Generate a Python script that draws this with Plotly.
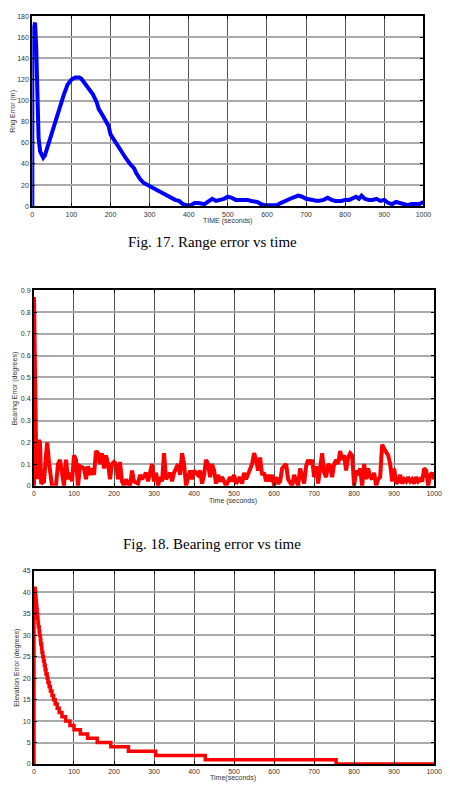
import plotly.graph_objects as go

# ---------------- data ----------------
time_ticks = [0, 100, 200, 300, 400, 500, 600, 700, 800, 900, 1000]

range_t = [0, 0, 3, 7, 10, 13, 16, 20, 25, 28, 32, 40, 50, 60, 70, 80, 90, 100, 110, 120, 125,
           135, 145, 155, 165, 170, 180, 190, 195, 200, 210, 220, 230, 240, 250, 260, 265, 275,
           285, 295, 305, 315, 330, 340, 350, 365, 375, 385, 395, 405, 415, 425, 440, 450, 460,
           470, 480, 490, 500, 510, 520, 535, 550, 560, 575, 585, 595, 610, 625, 635, 645, 655,
           665, 680, 690, 700, 715, 730, 745, 755, 765, 775, 790, 800, 810, 820, 828, 835, 842,
           850, 860, 870, 880, 890, 900, 910, 920, 930, 940, 950, 960, 970, 980, 990, 1000]
range_err = [0, 150, 168, 174, 150, 100, 65, 52, 47, 46, 48, 58, 70, 82, 95, 105, 115, 120, 122,
             122, 121, 116, 111, 106, 98, 92, 86, 80, 76, 68, 62, 56, 50, 45, 40, 36, 32, 26, 22,
             20, 18, 15, 13, 10, 8, 6, 5, 2, 1, 1, 3, 3, 2, 4, 7, 5, 6, 7, 9, 8, 6, 6, 6, 5, 4,
             2, 1, 1, 1, 3, 5, 6, 8, 10, 9, 7, 6, 5, 6, 8, 6, 5, 5, 6, 6, 8, 9, 7, 10, 7, 6, 6,
             7, 5, 6, 3, 2, 4, 3, 2, 1, 2, 2, 2, 4]

bearing_t = [0, 0, 2, 5, 8, 12, 15, 18, 25, 30, 33, 38, 45, 55, 60, 65, 70, 75, 80, 85, 90, 95,
             100, 105, 110, 115, 125, 130, 135, 140, 145, 150, 155, 160, 165, 170, 175, 180, 185,
             190, 195, 200, 205, 210, 215, 220, 225, 230, 235, 240, 245, 250, 260, 265, 270, 280,
             285, 290, 295, 300, 305, 310, 315, 320, 325, 330, 335, 340, 345, 350, 360, 365, 370,
             375, 380, 390, 395, 400, 410, 415, 420, 425, 430, 435, 440, 445, 450, 455, 460, 465,
             470, 480, 485, 490, 495, 500, 505, 510, 515, 520, 525, 530, 540, 545, 550, 555, 560,
             565, 570, 575, 580, 585, 590, 595, 600, 605, 610, 615, 620, 630, 635, 645, 650, 660,
             665, 670, 675, 680, 685, 690, 695, 700, 705, 710, 715, 720, 725, 730, 735, 740, 745,
             750, 755, 760, 765, 770, 775, 780, 785, 790, 795, 800, 805, 810, 815, 820, 825, 830,
             835, 840, 845, 850, 855, 860, 865, 870, 875, 880, 885, 890, 895, 900, 905, 910, 915,
             920, 925, 930, 935, 940, 945, 950, 955, 960, 965, 970, 975, 980, 985, 990, 995, 1000]
bearing_err = [0, 0.87, 0.6, 0.2, 0.03, 0.21, 0.2, 0.01, 0.02, 0.14, 0.2, 0.1, 0.0, 0.0, 0.1,
               0.12, 0.06, 0.0, 0.12, 0.03, 0.06, 0.02, 0.14, 0.12, 0.0, 0.09, 0.08, 0.03, 0.09,
               0.05, 0.08, 0.05, 0.16, 0.15, 0.1, 0.15, 0.08, 0.14, 0.1, 0.03, 0.1, 0.11, 0.1,
               0.03, 0.11, 0.02, 0.0, 0.03, 0.01, 0.0, 0.07, 0.02, 0.01, 0.05, 0.03, 0.06, 0.02,
               0.06, 0.1, 0.02, 0.06, 0.0, 0.04, 0.02, 0.15, 0.03, 0.05, 0.06, 0.02, 0.06, 0.1,
               0.05, 0.15, 0.1, 0.0, 0.07, 0.03, 0.07, 0.05, 0.07, 0.01, 0.05, 0.12, 0.1, 0.04,
               0.1, 0.07, 0.01, 0.05, 0.02, 0.04, 0.0, 0.02, 0.04, 0.02, 0.05, 0.01, 0.03, 0.04,
               0.01, 0.06, 0.03, 0.08, 0.1, 0.15, 0.12, 0.07, 0.13, 0.05, 0.06, 0.02, 0.05, 0.02,
               0.05, 0.0, 0.04, 0.01, 0.02, 0.08, 0.1, 0.03, 0.0, 0.05, 0.0, 0.08, 0.05, 0.01,
               0.09, 0.12, 0.1, 0.12, 0.04, 0.09, 0.01, 0.1, 0.15, 0.06, 0.04, 0.1, 0.09, 0.04,
               0.1, 0.12, 0.1, 0.16, 0.12, 0.14, 0.07, 0.13, 0.15, 0.14, 0.0, 0.07, 0.05, 0.08,
               0.0, 0.1, 0.03, 0.08, 0.04, 0.03, 0.06, 0.0, 0.03, 0.04, 0.19, 0.17, 0.15, 0.14,
               0.1, 0.02, 0.08, 0.01, 0.02, 0.05, 0.01, 0.03, 0.02, 0.04, 0.02, 0.03, 0.01, 0.04,
               0.02, 0.03, 0.02, 0.08, 0.07, 0.0, 0.05, 0.06, 0.03]

elev_t = [0, 0, 3, 4, 5, 6, 7, 8, 9, 10, 11, 13, 14, 16, 17, 19, 20, 22, 24, 26, 28, 30, 33, 35,
          38, 41, 45, 49, 53, 58, 63, 70, 79, 90, 100, 116, 134, 158, 192, 236, 304, 428, 755, 1000]
elev_err = [0, 41, 40, 39, 38, 37, 36, 35, 34, 33, 32, 31, 30, 29, 28, 27, 26, 25, 24, 23, 22,
            21, 20, 19, 18, 17, 16, 15, 14, 13, 12, 11, 10, 9, 8, 7, 6, 5, 4, 3, 2, 1, 0, 0]

range_ticks = [0, 20, 40, 60, 80, 100, 120, 140, 160, 180]
bearing_ticks = [0, 0.1, 0.2, 0.3, 0.4, 0.5, 0.6, 0.7, 0.8, 0.9]
elev_ticks = [0, 5, 10, 15, 20, 25, 30, 35, 40, 45]

# ---------------- figure ----------------
W, H = 450, 802


def px_x(p):
    return p / W


def px_y(p):
    return 1 - p / H


fig = go.Figure()
fig.add_trace(go.Scatter(x=range_t, y=range_err, mode="lines", xaxis="x", yaxis="y",
                         line=dict(color="#0000ff", width=4)))
fig.add_trace(go.Scatter(x=bearing_t, y=bearing_err, mode="lines", xaxis="x2", yaxis="y2",
                         line=dict(color="#ff0000", width=4)))
fig.add_trace(go.Scatter(x=elev_t, y=elev_err, mode="lines", xaxis="x3", yaxis="y3",
                         line=dict(color="#ff0000", width=3.5, shape="hv")))

tickfont = dict(family="Liberation Sans, Arial", size=7, color="#333333")


def xax(domain, anchor):
    return dict(domain=domain, anchor=anchor, range=[0, 1000], tickvals=time_ticks,
                showgrid=True, gridcolor="#555555", gridwidth=1, zeroline=False,
                showline=True, linecolor="black", linewidth=2, mirror="ticks",
                ticks="inside", ticklen=3, tickcolor="black", tickfont=tickfont)


def yax(domain, anchor, rng, tv, tt=None):
    d = dict(domain=domain, anchor=anchor, range=rng, tickvals=tv,
             showgrid=True, gridcolor="#aaaaaa", gridwidth=1.5, zeroline=False,
             showline=True, linecolor="black", linewidth=2, mirror="ticks",
             ticks="inside", ticklen=3, tickcolor="black", tickfont=tickfont)
    if tt is not None:
        d["ticktext"] = tt
    return d


fig.update_layout(
    width=W, height=H, margin=dict(l=0, r=0, t=0, b=0),
    paper_bgcolor="white", plot_bgcolor="white", showlegend=False,
    xaxis=xax([px_x(31), px_x(431)], "y"),
    yaxis=yax([px_y(204), px_y(12.3)], "x", [0, 180], range_ticks),
    xaxis2=xax([px_x(32.7), px_x(442)], "y2"),
    yaxis2=yax([px_y(486), px_y(289)], "x2", [0, 0.9], bearing_ticks,
               [("%g" % v) for v in bearing_ticks]),
    xaxis3=xax([px_x(32.7), px_x(442)], "y3"),
    yaxis3=yax([px_y(766.7), px_y(572)], "x3", [0, 45], elev_ticks),
)

label_font = dict(family="Liberation Sans, Arial", size=7, color="#333333")
cap_font = dict(family="Liberation Serif, Times New Roman", size=15, color="black")

annotations = [
    dict(text="TIME (seconds)", x=px_x(231), y=px_y(218.5), font=label_font),
    dict(text="Rng Error (m)", x=px_x(11), y=px_y(108), font=label_font, textangle=-90),
    dict(text="Fig. 17. Range error vs time", x=px_x(215), y=px_y(240), font=cap_font),
    dict(text="Time (seconds)", x=px_x(236), y=px_y(501), font=label_font),
    dict(text="Bearing Error (degrees)", x=px_x(13), y=px_y(388), font=label_font, textangle=-90),
    dict(text="Fig. 18. Bearing error vs time", x=px_x(215), y=px_y(545), font=cap_font),
    dict(text="Time(seconds)", x=px_x(236), y=px_y(781), font=label_font),
    dict(text="Elevation Error (degrees)", x=px_x(15), y=px_y(670), font=label_font, textangle=-90),
]
for a in annotations:
    a.update(xref="paper", yref="paper", showarrow=False, xanchor="center", yanchor="middle")
fig.update_layout(annotations=annotations)

fig.write_html("out.html")
